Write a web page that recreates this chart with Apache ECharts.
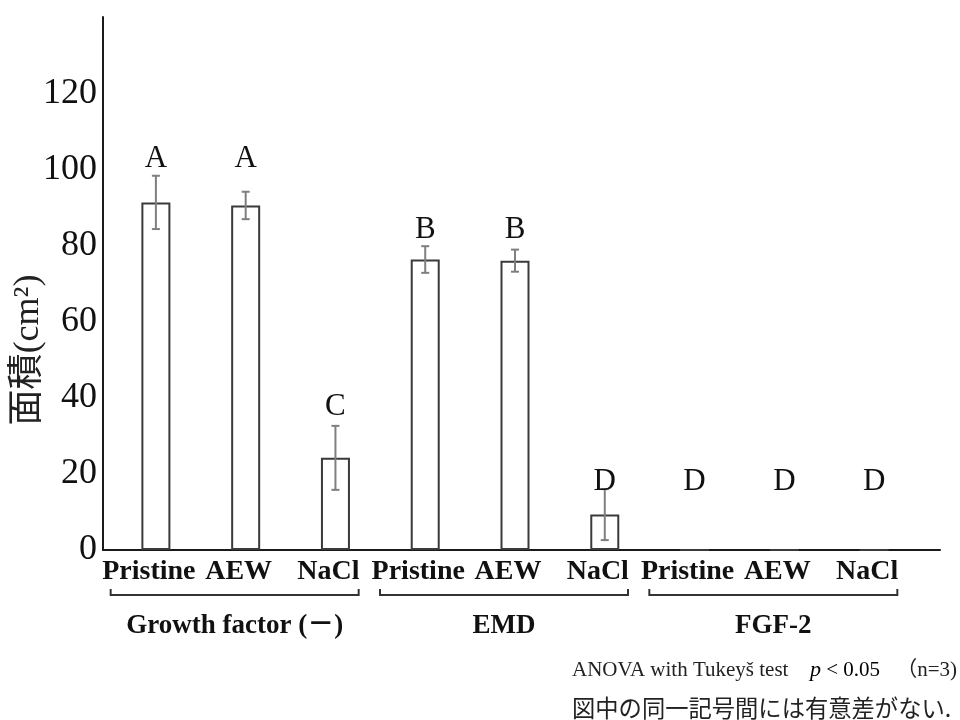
<!DOCTYPE html>
<html>
<head>
<meta charset="utf-8">
<script src="https://cdn.jsdelivr.net/npm/echarts@6/dist/echarts.min.js"></script>
<style>
  html, body { margin: 0; padding: 0; background: #fff; }
  #chart { width: 960px; height: 720px; }
</style>
</head>
<body>
<div id="chart"></div>
<script>
// Treatments within each group, left to right
const categories = ['Pristine', 'AEW', 'NaCl', 'Pristine', 'AEW', 'NaCl', 'Pristine', 'AEW', 'NaCl'];
// Growth-factor groups, three treatments each
const groups = ['Growth factor (－)', 'EMD', 'FGF-2'];
// Mean area (cm²) and standard deviation per bar
const areaMean = [91.3, 90.5, 24.2, 76.3, 76.0, 9.3, 0, 0, 0];
const areaSD = [7.0, 3.6, 8.4, 3.5, 2.9, 6.7, 0, 0, 0];
// Tukey grouping letters and the height (cm²) at which each one sits
const sigLetters = ['A', 'A', 'C', 'B', 'B', 'D', 'D', 'D', 'D'];
const letterHeight = [103.4, 103.4, 38.3, 84.9, 84.9, 18.6, 18.6, 18.6, 18.6];
// Value axis range
const yMin = 0, yMax = 140, yStep = 20;

const SERIF = '"Liberation Serif", "Times New Roman", serif';
const SERIF_JP = '"Liberation Serif", "Noto Sans CJK JP", serif';
const JP = '"Noto Sans CJK JP", sans-serif';

const chart = echarts.init(document.getElementById('chart'), null, { renderer: 'canvas' });

function renderErrorBar(params, api) {
  const x = api.value(0), lo = api.value(1), hi = api.value(2);
  if (!(hi > lo)) return null;
  const a = api.coord([x, lo]);
  const b = api.coord([x, hi]);
  const hw = 4;
  const st = { stroke: '#7f7f7f', lineWidth: 2 };
  return {
    type: 'group',
    children: [
      { type: 'line', shape: { x1: a[0], y1: a[1], x2: b[0], y2: b[1] }, style: st },
      { type: 'line', shape: { x1: a[0] - hw, y1: a[1], x2: a[0] + hw, y2: a[1] }, style: st },
      { type: 'line', shape: { x1: b[0] - hw, y1: b[1], x2: b[0] + hw, y2: b[1] }, style: st }
    ]
  };
}

function renderLetter(params, api) {
  const p = api.coord([api.value(0), api.value(1)]);
  return {
    type: 'text',
    x: p[0], y: p[1] + 3,
    style: {
      text: sigLetters[params.dataIndex],
      font: '31px ' + SERIF,
      fill: '#111',
      align: 'center',
      verticalAlign: 'middle'
    }
  };
}

const option = {
  animation: false,
  backgroundColor: '#fff',
  grid: [
    { left: 111, right: 41, top: 17, bottom: 170 },
    { left: 103, right: 20, top: 17, bottom: 170 }
  ],
  xAxis: [
    {
      type: 'category', gridIndex: 0, data: categories,
      axisLine: { show: false }, axisTick: { show: false },
      axisLabel: {
        interval: 0, margin: 8, padding: [0, 14, 0, 0],
        fontFamily: SERIF, fontWeight: 'bold', fontSize: 28, color: '#111'
      }
    },
    {
      type: 'value', gridIndex: 1, min: 0, max: 1,
      axisLine: { show: true, lineStyle: { color: '#1a1a1a', width: 2 } },
      axisTick: { show: false }, axisLabel: { show: false }, splitLine: { show: false }
    }
  ],
  yAxis: [
    { type: 'value', gridIndex: 0, min: yMin, max: yMax, interval: yStep, show: false },
    {
      type: 'value', gridIndex: 1, min: yMin, max: yMax, interval: yStep,
      axisLine: { show: true, lineStyle: { color: '#1a1a1a', width: 2 } },
      axisTick: { show: false }, splitLine: { show: false },
      axisLabel: { showMaxLabel: false, margin: 6, fontFamily: SERIF, fontSize: 36, color: '#111' }
    }
  ],
  series: [
    {
      type: 'bar', xAxisIndex: 0, yAxisIndex: 0, data: areaMean, barWidth: 29,
      itemStyle: { color: '#fff', borderColor: '#3a3a3a', borderWidth: 2 },
      silent: true
    },
    {
      type: 'custom', xAxisIndex: 0, yAxisIndex: 0,
      data: areaMean.map((m, i) => [i, m - areaSD[i], m + areaSD[i]]),
      encode: { x: 0, y: [1, 2] },
      renderItem: renderErrorBar, z: 3, silent: true
    },
    {
      type: 'custom', xAxisIndex: 0, yAxisIndex: 0,
      data: letterHeight.map((h, i) => [i, h]),
      encode: { x: 0, y: 1 },
      renderItem: renderLetter, z: 4, silent: true
    }
  ]
};
chart.setOption(option);

// Group brackets and names under the treatment labels
const graphics = [];
groups.forEach((name, g) => {
  const cx = chart.convertToPixel({ xAxisIndex: 0 }, g * 3 + 1) - 11;
  const hw = 124, y = 595, up = 6;
  graphics.push({
    type: 'polyline',
    shape: { points: [[cx - hw, y - up], [cx - hw, y], [cx + hw, y], [cx + hw, y - up]] },
    style: { stroke: '#333', lineWidth: 2, fill: null }
  });
  graphics.push({
    type: 'text', x: cx, y: 626,
    style: { text: name, font: 'bold 27px ' + SERIF_JP, fill: '#111', align: 'center', verticalAlign: 'middle' }
  });
});

// Statistical notes
graphics.push({
  type: 'text', x: 572, y: 670,
  style: { text: 'ANOVA with Tukeyš test', font: '21px ' + SERIF, fill: '#222', align: 'left', verticalAlign: 'middle' }
});
graphics.push({
  type: 'text', x: 810, y: 670,
  style: {
    text: '{i|p}{a| < 0.05}',
    align: 'left', verticalAlign: 'middle',
    rich: {
      a: { fontFamily: SERIF, fontSize: 21, color: '#222' },
      i: { fontFamily: SERIF, fontStyle: 'italic', fontSize: 22, color: '#222' }
    }
  }
});
graphics.push({
  type: 'text', x: 957, y: 670,
  style: { text: '（n=3)', font: '21px ' + SERIF_JP, fill: '#222', align: 'right', verticalAlign: 'middle' }
});
graphics.push({
  type: 'text', x: 572, y: 708,
  style: { text: '図中の同一記号間には有意差がない.', font: '23.3px ' + JP, fill: '#222', align: 'left', verticalAlign: 'middle' }
});
// Vertical axis title
graphics.push({
  type: 'text', x: 29, y: 350, rotation: Math.PI / 2,
  style: { text: '面積(cm²)', font: '36px ' + SERIF_JP, fill: '#222', align: 'center', verticalAlign: 'middle' }
});

chart.setOption({ graphic: { elements: graphics } });
</script>
</body>
</html>
